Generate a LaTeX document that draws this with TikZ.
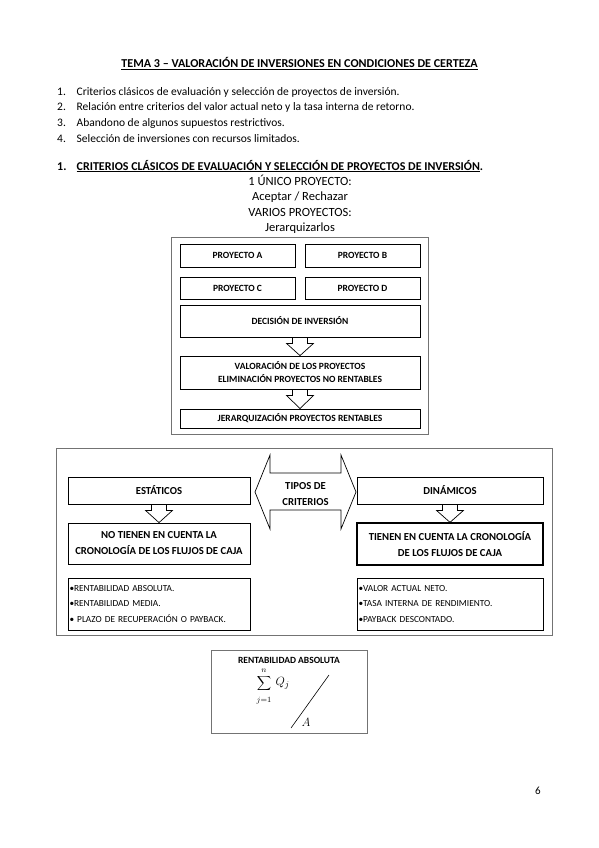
\documentclass[tikz,border=0pt]{standalone}
\usepackage{fontspec}
\setmainfont{Carlito}
\usetikzlibrary{calc,positioning}
\tikzset{
  marco/.style={draw=black!55,line width=.9pt},
  caja/.style={draw,line width=.8pt,inner sep=0pt,align=center,font=\bfseries\fontsize{9.5}{13}\selectfont},
  cajados/.style={caja,font=\bfseries\fontsize{10.7}{16}\selectfont},
  lista/.style={draw,line width=.8pt,inner sep=0pt,align=left,font=\fontsize{9.3}{15.5}\selectfont},
  bloque/.style={draw,line width=.7pt},
  txt/.style={anchor=base west,inner sep=0pt,font=\fontsize{11.5}{12}\selectfont}
}
% flecha de bloque entre dos cajas
\newcommand{\flecha}[2]{\draw[bloque] let \p1=(#1.south),\p2=(#2.north) in (\x1-7.5pt,\y1)--(\x1-7.5pt,\y1-6pt)--(\x1-13.5pt,\y1-6pt)--(\x1,\y2)--(\x1+13.5pt,\y1-6pt)--(\x1+7.5pt,\y1-6pt)--(\x1+7.5pt,\y1);}

\begin{document}
\begin{tikzpicture}[x=1pt,y=-1pt]
\useasboundingbox[fill=white] (0,0) rectangle (599,848);
% encabezado
\node[anchor=base,inner sep=0pt,font=\bfseries\fontsize{12.1}{13}\selectfont] (tit) at (299.5,68){\underline{TEMA 3 – VALORACIÓN DE INVERSIONES EN CONDICIONES DE CERTEZA}};
\foreach \n/\y/\t in {1/95.5/{Criterios clásicos de evaluación y selección de proyectos de inversión.},2/111/{Relación entre criterios del valor actual neto y la tasa interna de retorno.},3/126.5/{Abandono de algunos supuestos restrictivos.},4/142.5/{Selección de inversiones con recursos limitados.}}{
  \node[txt] (num\n) at (57,\y){\n.};\node[txt] (item\n) at (76.5,\y){\t};}
\node[txt,font=\bfseries\fontsize{12}{13}\selectfont] (secnum) at (57,170){1.};
\node[txt,font=\bfseries\fontsize{12}{13}\selectfont] (sec) at (76.5,170){\underline{CRITERIOS CLÁSICOS DE EVALUACIÓN Y SELECCIÓN DE PROYECTOS DE INVERSIÓN}.};
\foreach \y/\t [count=\i] in {185/{1 ÚNICO PROYECTO:},200.5/{Aceptar / Rechazar},216/{VARIOS PROYECTOS:},231.5/{Jerarquizarlos}}
  \node[anchor=base,inner sep=0pt,font=\fontsize{12.5}{14}\selectfont] (lin\i) at (300,\y){\t};

% primer esquema
\draw[marco] (171,237) rectangle (428,434);
\node[caja,minimum width=115pt,minimum height=23pt] (pA) at (237.5,255.5){PROYECTO A};
\node[caja,minimum width=115pt,minimum height=23pt] (pB) at (362.5,255.5){PROYECTO B};
\node[caja,minimum width=115pt,minimum height=22pt] (pC) at (237.5,288){PROYECTO C};
\node[caja,minimum width=115pt,minimum height=22pt] (pD) at (362.5,288){PROYECTO D};
\node[caja,minimum width=240pt,minimum height=32pt] (dec) at (300,321){DECISIÓN DE INVERSIÓN};
\node[caja,minimum width=240pt,minimum height=33pt] (val) at (300,372.5){VALORACIÓN DE LOS PROYECTOS\\ELIMINACIÓN PROYECTOS NO RENTABLES};
\node[caja,minimum width=240pt,minimum height=19pt] (jer) at (300,418.5){JERARQUIZACIÓN PROYECTOS RENTABLES};
\flecha{dec}{val}
\flecha{val}{jer}

% segundo esquema
\draw[marco] (56,448) rectangle (552,635);
\node[cajados,minimum width=182pt,minimum height=27pt] (est) at (159,490.5){ESTÁTICOS};
\node[cajados,minimum width=182pt,minimum height=41pt] (noT) at (159,543.5){NO TIENEN EN CUENTA LA\\CRONOLOGÍA DE LOS FLUJOS DE CAJA};
\node[lista,minimum width=182pt,minimum height=52pt,text width=179pt] (lisE) at (159,604){•RENTABILIDAD ABSOLUTA.\\•RENTABILIDAD MEDIA.\\• PLAZO DE RECUPERACIÓN O PAYBACK.};
\node[cajados,minimum width=186pt,minimum height=27pt] (din) at (450,490.5){DINÁMICOS};
\node[cajados,line width=1.3pt,minimum width=186pt,minimum height=42pt] (siT) at (450,544){TIENEN EN CUENTA LA CRONOLOGÍA\\DE LOS FLUJOS DE CAJA};
\node[lista,minimum width=186pt,minimum height=52pt,text width=183pt] (lisD) at (450,604){•VALOR ACTUAL NETO.\\•TASA INTERNA DE RENDIMIENTO.\\•PAYBACK DESCONTADO.};
\flecha{est}{noT}
\flecha{din}{siT}
\node[cajados,draw=none] (tipos) at (305.5,494){TIPOS DE\\CRITERIOS};
\draw[bloque,shift={(tipos.center)}] (-50.5,-2)--(-35.5,-39)--(-35.5,-21)--(35.5,-21)--(35.5,-39)--(50.5,-2)--(35.5,35)--(35.5,16)--(-35.5,16)--(-35.5,35)--cycle;

% formula
\draw[marco] (211,650) rectangle (367,733);
\node[anchor=base,inner sep=0pt,font=\bfseries\fontsize{9.5}{11}\selectfont] (rent) at (289,663){RENTABILIDAD ABSOLUTA};
\node[inner sep=0pt,font=\fontsize{12}{14}\selectfont] (sig) at (264,683){$\displaystyle\sum$};
\node[inner sep=0pt,above=2pt of sig,font=\fontsize{11}{12}\selectfont] (sup) {$\scriptstyle n$};
\node[inner sep=0pt,below=6pt of sig,font=\fontsize{11}{12}\selectfont] (inf) {$\scriptstyle j=1$};
\node[inner sep=0pt,right=4pt of sig,font=\fontsize{13}{14}\selectfont] (qj) {$Q_j$};
\node[inner sep=0pt,font=\fontsize{13}{14}\selectfont] (dA) at (306,722){$A$};
\coordinate (s1) at (329,675);\coordinate (s2) at (291,728);
\draw[line width=.6pt] (s1)--(s2);
\node[anchor=base,inner sep=0pt,font=\fontsize{11}{12}\selectfont] (pag) at (538,794){6};
\end{tikzpicture}
\end{document}
